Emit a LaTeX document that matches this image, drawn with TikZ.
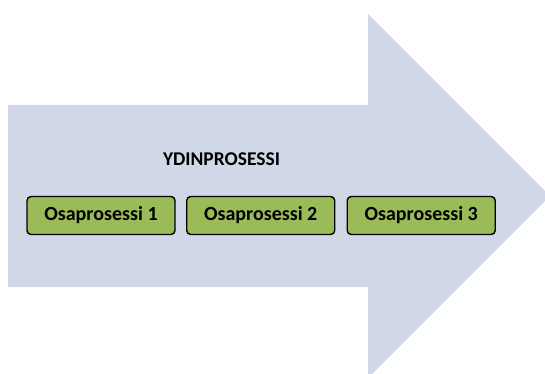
\documentclass[tikz,border=0pt]{standalone}
\usepackage{fontspec}
\setmainfont{Carlito}
\definecolor{arrowfill}{HTML}{D0D8E8}
\definecolor{stepfill}{HTML}{9BBB59}
\begin{document}
\begin{tikzpicture}[x=1pt,y=-1pt,
  stepbox/.style={draw=black, line width=1.4pt, fill=stepfill, rounded corners=4pt,
    minimum width=148pt, minimum height=38pt, inner sep=0pt,
    font=\fontsize{20}{23}\selectfont\bfseries},
  titletext/.style={font=\fontsize{19.5}{23}\selectfont\bfseries}]
  \clip (0,0) rectangle (545,374);
  \useasboundingbox (0,0) rectangle (545,374);
  % large process arrow
  \fill[arrowfill] (8,105) -- (368,105) -- (368,14) -- (550,196) -- (368,378)
    -- (368,287) -- (8,287) -- cycle;
  \node[titletext] (main) at (221.5,159) {YDINPROSESSI};
  \node[stepbox] (s1) at (101,215.5) {Osaprosessi 1};
  \node[stepbox] (s2) at (260.7,215.5) {Osaprosessi 2};
  \node[stepbox] (s3) at (421.2,215.5) {Osaprosessi 3};
\end{tikzpicture}
\end{document}
